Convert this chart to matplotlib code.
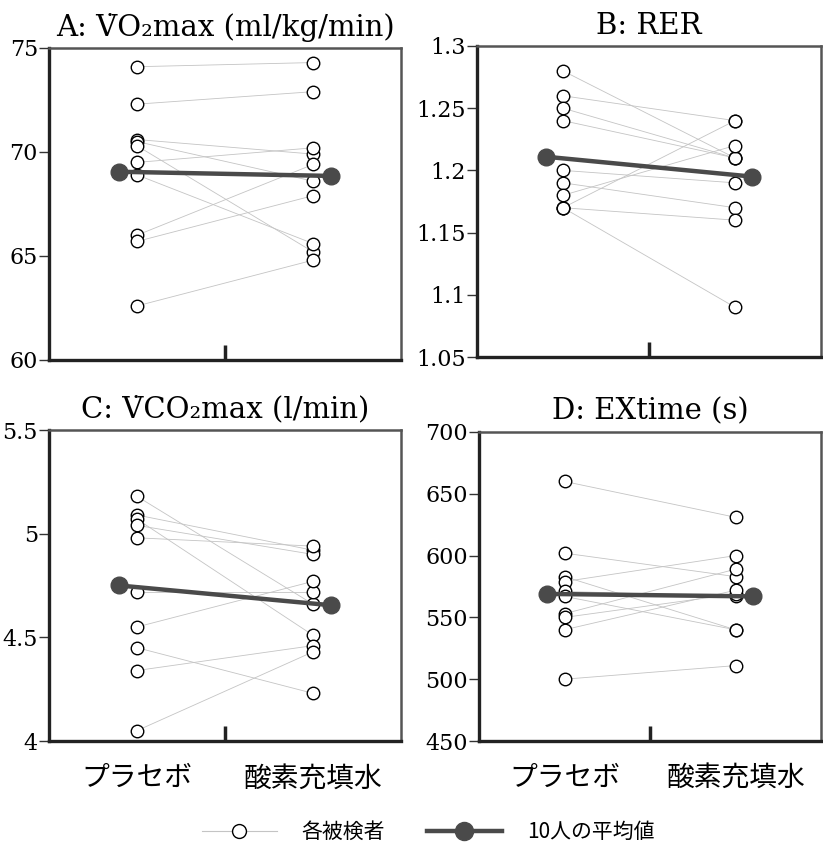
import matplotlib
matplotlib.use("Agg")
import matplotlib.pyplot as plt
from matplotlib.lines import Line2D

plt.rcParams['font.family'] = ['DejaVu Serif', 'Noto Sans CJK JP']

# ---- データ ----
groups = ["プラセボ", "酸素充填水"]
titles = ["A: V\u0307O\u2082max (ml/kg/min)", "B: RER",
          "C: V\u0307CO\u2082max (l/min)", "D: EXtime (s)"]

vo2_placebo = [74.1, 72.3, 70.6, 70.5, 70.3, 69.5, 68.9, 66.0, 65.7, 62.6]
vo2_oxygen = [74.3, 72.9, 69.9, 68.6, 65.2, 70.2, 65.6, 69.4, 67.9, 64.8]
vo2_mean = [69.05, 68.85]

rer_placebo = [1.28, 1.26, 1.25, 1.24, 1.20, 1.19, 1.18, 1.17, 1.17, 1.17]
rer_oxygen = [1.21, 1.24, 1.21, 1.21, 1.19, 1.17, 1.22, 1.24, 1.16, 1.09]
rer_mean = [1.211, 1.195]

vco2_placebo = [5.18, 5.09, 5.07, 5.04, 4.98, 4.72, 4.55, 4.45, 4.34, 4.05]
vco2_oxygen = [4.66, 4.92, 4.51, 4.90, 4.94, 4.72, 4.77, 4.23, 4.46, 4.43]
vco2_mean = [4.75, 4.655]

ex_placebo = [660, 602, 583, 579, 571, 567, 553, 550, 540, 500]
ex_oxygen = [631, 583, 540, 600, 567, 540, 589, 569, 572, 511]
ex_mean = [569, 567]

ylims = [(60, 75), (1.05, 1.3), (4, 5.5), (450, 700)]
yticks = [[60, 65, 70, 75], [1.05, 1.1, 1.15, 1.2, 1.25, 1.3],
          [4, 4.5, 5, 5.5], [450, 500, 550, 600, 650, 700]]
yticklabels = [["60", "65", "70", "75"], ["1.05", "1.1", "1.15", "1.2", "1.25", "1.3"],
               ["4", "4.5", "5", "5.5"], ["450", "500", "550", "600", "650", "700"]]

panels = [(vo2_placebo, vo2_oxygen, vo2_mean),
          (rer_placebo, rer_oxygen, rer_mean),
          (vco2_placebo, vco2_oxygen, vco2_mean),
          (ex_placebo, ex_oxygen, ex_mean)]

W, H = 823, 843
boxes = [(49, 401, 48, 360), (477, 821, 46, 357),
         (49, 401, 430, 741), (479, 821, 432, 741)]

fig = plt.figure(figsize=(W / 100, H / 100), dpi=100)

ind_color = "#c4c4c4"
mean_color = "#4a4a4a"

for i, (pl, ox, mn) in enumerate(panels):
    l, r, t, b = boxes[i]
    ax = fig.add_axes([l / W, 1 - b / H, (r - l) / W, (b - t) / H])
    for a, c in zip(pl, ox):
        ax.plot([1, 2], [a, c], color=ind_color, lw=0.6, zorder=1)
    ax.plot([1] * len(pl), pl, 'o', ms=9, mfc='white', mec='black', mew=1.0, zorder=3)
    ax.plot([2] * len(ox), ox, 'o', ms=9, mfc='white', mec='black', mew=1.0, zorder=3)
    ax.plot([0.9, 2.1], mn, color=mean_color, lw=3.2, marker='o', ms=12,
            mfc=mean_color, mec=mean_color, zorder=4)

    ax.set_xlim(0.5, 2.5)
    ax.set_ylim(*ylims[i])
    ax.set_yticks(yticks[i])
    ax.set_yticklabels(yticklabels[i], fontsize=16)
    ax.set_xticks([1.5])
    ax.set_xticklabels([""])
    ax.tick_params(axis='x', direction='in', length=11, width=2.5, color='#222222')
    ax.tick_params(axis='y', direction='out', length=7, width=1, pad=1, color='#333333')

    for s in ['left', 'bottom']:
        ax.spines[s].set_linewidth(2.4)
        ax.spines[s].set_color('#222222')
    for s in ['top', 'right']:
        ax.spines[s].set_linewidth(1.8)
        ax.spines[s].set_color('#555555')

    ax.set_title(titles[i], fontsize=21, pad=9)

    if i >= 2:
        for x, g in zip([1, 2], groups):
            ax.text(x, -0.12, g, transform=ax.get_xaxis_transform(), ha='center', va='center',
                    fontsize=20, family=['Noto Sans CJK JP'])

h1 = Line2D([], [], color=ind_color, lw=0.8, marker='o', ms=10, mfc='white', mec='black', mew=1.0)
h2 = Line2D([], [], color=mean_color, lw=3.2, marker='o', ms=13, mfc=mean_color, mec=mean_color)
fig.legend([h1, h2], ["各被検者", "10人の平均値"], loc='center', bbox_to_anchor=(0.52, 0.013),
           ncol=2, frameon=False, handlelength=3.6, columnspacing=2.0, handletextpad=1.2,
           numpoints=1, prop={'family': 'Noto Sans CJK JP', 'size': 15})

fig.savefig("out.png", dpi=100)
